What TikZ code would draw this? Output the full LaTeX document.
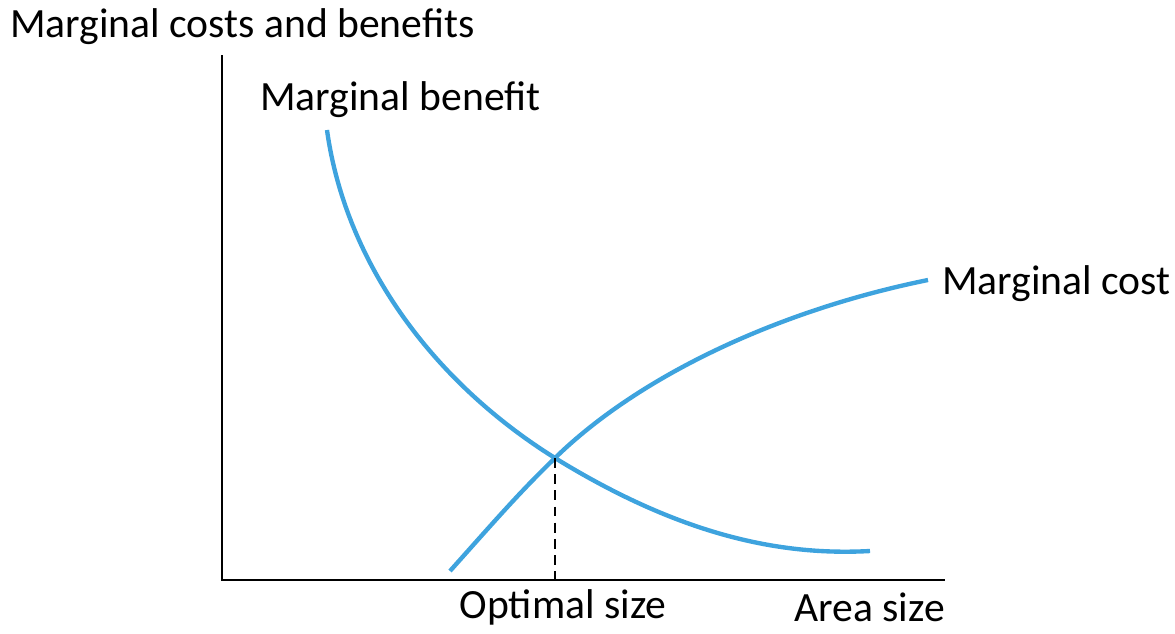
\documentclass[tikz,border=0pt]{standalone}
\usepackage{fontspec}
\setmainfont{Carlito}
\definecolor{curveblue}{RGB}{62,163,222}

\begin{document}
\begin{tikzpicture}[x=0.025cm, y=-0.025cm,
  curve/.style={draw=curveblue, line width=3.1pt},
  axis/.style={draw=black, line width=1.3pt},
  lbl/.style={inner sep=0pt, font=\fontsize{29.6}{34}\selectfont}]
\useasboundingbox (0,0) rectangle (1175,633);
\coordinate (origin) at (222,580);
\coordinate (ytop) at (222,55);
\coordinate (xend) at (945,580);
\coordinate (mbstart) at (327,130);
\coordinate (mbend) at (870,551);
\coordinate (mcstart) at (450,571);
\coordinate (mcend) at (928,280);
\coordinate (opt) at (555,458);
\coordinate (optfoot) at (555,580);
\draw[axis] (ytop) -- (origin) -- (xend);
\draw[curve] (mbstart) .. controls (345,260) and (430,380) .. (opt)
  .. controls (680,535) and (780,556) .. (mbend);
\draw[curve] (mcstart) .. controls (500,515) and (520,492) .. (opt)
  .. controls (640,375) and (780,310) .. (mcend);
\draw[line width=1.4pt, dash pattern=on 7pt off 4.5pt] (opt) -- (optfoot);
\node[lbl, anchor=west] (ylabel) at (10,27) {Marginal costs and benefits};
\node[lbl, anchor=west] (mblabel) at (260,100) {Marginal benefit};
\node[lbl, anchor=west] (mclabel) at (942,284) {Marginal cost};
\node[lbl] (optlabel) at (563,607) {Optimal size};
\node[lbl, anchor=east] (xlabel) at (945,607) {Area size};
\end{tikzpicture}
\end{document}
